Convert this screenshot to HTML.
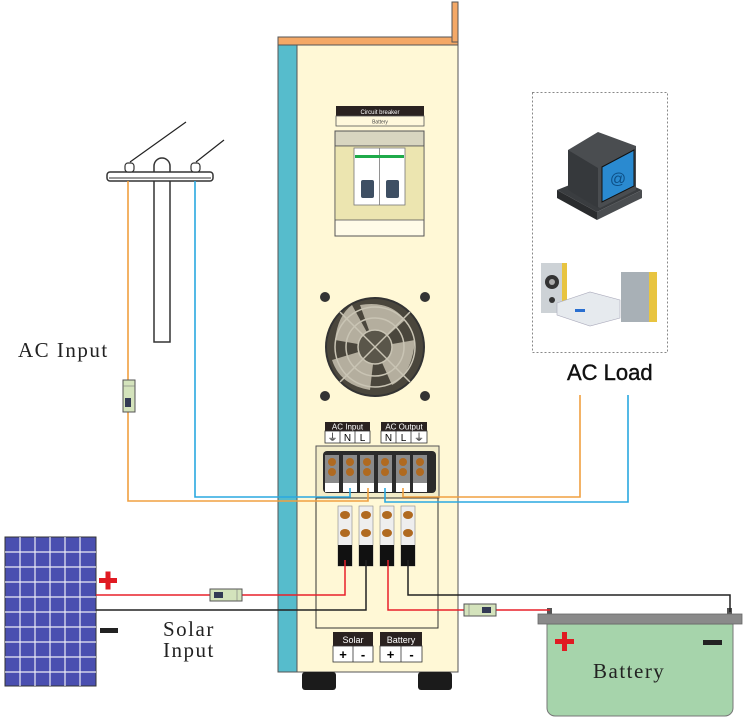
<!DOCTYPE html>
<html><head><meta charset="utf-8"><style>
html,body{margin:0;padding:0;background:#fff;}
svg{display:block;}
</style></head><body>
<svg width="747" height="723" viewBox="0 0 747 723" xmlns="http://www.w3.org/2000/svg">
<!-- Pole -->
<line x1="130" y1="162" x2="186" y2="122" stroke="#222" stroke-width="1.2"/>
<line x1="196" y1="162" x2="224" y2="140" stroke="#222" stroke-width="1.2"/>
<path d="M154 342 V166 a8 8 0 0 1 16 0 V342 Z" fill="#fff" stroke="#333" stroke-width="1.5"/>
<rect x="107" y="172" width="106" height="9" rx="3" fill="#fff" stroke="#333" stroke-width="1.5"/>
<line x1="109" y1="178" x2="211" y2="178" stroke="#999" stroke-width="2"/>
<rect x="125" y="163" width="9" height="9" rx="3" fill="#fff" stroke="#333" stroke-width="1.2"/>
<rect x="191" y="163" width="9" height="9" rx="3" fill="#fff" stroke="#333" stroke-width="1.2"/>
<text x="18" y="357" font-family="Liberation Serif, serif" font-size="21" letter-spacing="1.5" fill="#222">AC Input</text>

<!-- Cabinet -->
<rect x="278" y="37" width="180" height="8" fill="#f4a866" stroke="#555" stroke-width="1"/>
<rect x="452" y="2" width="6" height="40" fill="#f4a866" stroke="#555" stroke-width="1"/>
<rect x="297" y="45" width="161" height="627" fill="#fff8d6" stroke="#555" stroke-width="1"/>
<rect x="278" y="45" width="19" height="627" fill="#56bccc" stroke="#555" stroke-width="1"/>
<rect x="302" y="672" width="34" height="18" rx="3" fill="#1b1b1b"/>
<rect x="418" y="672" width="34" height="18" rx="3" fill="#1b1b1b"/>

<!-- Breaker -->
<rect x="336" y="106" width="88" height="10" fill="#2a2220"/>
<rect x="336" y="116" width="88" height="10" fill="#fff8dc" stroke="#555" stroke-width="0.8"/>
<text x="380" y="114" font-family="Liberation Sans, sans-serif" font-size="6" fill="#fff" text-anchor="middle">Circuit breaker</text>
<text x="380" y="123.5" font-family="Liberation Sans, sans-serif" font-size="5" fill="#444" text-anchor="middle">Battery</text>
<rect x="335" y="131" width="89" height="105" fill="#fffbe8" stroke="#555" stroke-width="1"/>
<rect x="335" y="131" width="89" height="15" fill="#d8d5c0" stroke="#555" stroke-width="1"/>
<rect x="335" y="146" width="89" height="74" fill="#ece5b0" stroke="#555" stroke-width="0.8"/>
<rect x="354" y="148" width="51" height="57" fill="#fff" stroke="#777" stroke-width="0.8"/>
<line x1="379.5" y1="148" x2="379.5" y2="205" stroke="#777" stroke-width="0.8"/>
<rect x="355" y="155" width="49" height="3" fill="#1faa4a"/>
<rect x="361" y="180" width="13" height="18" rx="2" fill="#3e4f63"/>
<rect x="386" y="180" width="13" height="18" rx="2" fill="#3e4f63"/>

<!-- Fan -->
<g>
<circle cx="325" cy="297" r="5" fill="#333"/><circle cx="425" cy="297" r="5" fill="#333"/>
<circle cx="325" cy="396" r="5" fill="#333"/><circle cx="425" cy="396" r="5" fill="#333"/>
<circle cx="375" cy="347" r="49" fill="#4a463c" stroke="#333" stroke-width="2"/>
<path d="M375 347 L360 305 Q390 300 405 320 Z M375 347 L415 340 Q412 375 392 385 Z M375 347 L370 390 Q340 385 332 360 Z M375 347 L335 340 Q338 315 352 305 Z" fill="#d8d2bf" opacity="0.75"/>
<circle cx="375" cy="347" r="40" fill="none" stroke="#c9c4b4" stroke-width="1.5"/>
<circle cx="375" cy="347" r="29" fill="none" stroke="#c9c4b4" stroke-width="1.5"/>
<circle cx="375" cy="347" r="17" fill="#5a564a" stroke="#c9c4b4" stroke-width="1.5"/>
<line x1="340" y1="312" x2="410" y2="382" stroke="#c9c4b4" stroke-width="1.5"/>
<line x1="410" y1="312" x2="340" y2="382" stroke="#c9c4b4" stroke-width="1.5"/>
</g>

<!-- Terminal labels -->
<g font-family="Liberation Sans, sans-serif" font-size="8">
<rect x="325" y="422" width="45" height="9" fill="#2a2220"/>
<text x="347.5" y="429.5" fill="#fff" text-anchor="middle">AC Input</text>
<rect x="325" y="431" width="45" height="12" fill="#fff" stroke="#333" stroke-width="0.8"/>
<line x1="340" y1="431" x2="340" y2="443" stroke="#333" stroke-width="0.8"/><line x1="355" y1="431" x2="355" y2="443" stroke="#333" stroke-width="0.8"/>
<text x="332.5" y="441" text-anchor="middle" font-size="10">⏚</text><text x="347.5" y="441" text-anchor="middle" font-size="10">N</text><text x="362.5" y="441" text-anchor="middle" font-size="10">L</text>
<rect x="381" y="422" width="46" height="9" fill="#2a2220"/>
<text x="404" y="429.5" fill="#fff" text-anchor="middle">AC Output</text>
<rect x="381" y="431" width="46" height="12" fill="#fff" stroke="#333" stroke-width="0.8"/>
<line x1="396" y1="431" x2="396" y2="443" stroke="#333" stroke-width="0.8"/><line x1="411" y1="431" x2="411" y2="443" stroke="#333" stroke-width="0.8"/>
<text x="388.5" y="441" text-anchor="middle" font-size="10">N</text><text x="403.5" y="441" text-anchor="middle" font-size="10">L</text><text x="419" y="441" text-anchor="middle" font-size="10">⏚</text>
</g>

<!-- Top terminal block -->
<rect x="316" y="446" width="123" height="52" fill="#f2ecc8" stroke="#555" stroke-width="1"/>
<rect x="323" y="451" width="113" height="42" rx="4" fill="#2b2b2b"/>
<g>
<rect x="325" y="455" width="14" height="37" fill="#8a8a8a"/><rect x="343" y="455" width="14" height="37" fill="#8a8a8a"/>
<rect x="360" y="455" width="14" height="37" fill="#8a8a8a"/><rect x="378" y="455" width="14" height="37" fill="#8a8a8a"/>
<rect x="396" y="455" width="14" height="37" fill="#8a8a8a"/><rect x="413" y="455" width="14" height="37" fill="#8a8a8a"/>
<g fill="#fff"><rect x="325" y="483" width="14" height="9"/><rect x="343" y="483" width="14" height="9"/><rect x="360" y="483" width="14" height="9"/><rect x="378" y="483" width="14" height="9"/><rect x="396" y="483" width="14" height="9"/><rect x="413" y="483" width="14" height="9"/></g>
<g fill="#b06a20"><circle cx="332" cy="462" r="4"/><circle cx="332" cy="472" r="4"/><circle cx="350" cy="462" r="4"/><circle cx="350" cy="472" r="4"/><circle cx="367" cy="462" r="4"/><circle cx="367" cy="472" r="4"/><circle cx="385" cy="462" r="4"/><circle cx="385" cy="472" r="4"/><circle cx="403" cy="462" r="4"/><circle cx="403" cy="472" r="4"/><circle cx="420" cy="462" r="4"/><circle cx="420" cy="472" r="4"/></g>
</g>

<!-- Lower terminals -->
<rect x="316" y="498" width="122" height="130" fill="none" stroke="#333" stroke-width="1"/>
<g>
<rect x="338" y="506" width="14" height="60" fill="#eee" stroke="#888" stroke-width="0.6"/>
<rect x="359" y="506" width="14" height="60" fill="#eee" stroke="#888" stroke-width="0.6"/>
<rect x="380" y="506" width="14" height="60" fill="#eee" stroke="#888" stroke-width="0.6"/>
<rect x="401" y="506" width="14" height="60" fill="#eee" stroke="#888" stroke-width="0.6"/>
<g fill="#111"><rect x="338" y="545" width="14" height="21"/><rect x="359" y="545" width="14" height="21"/><rect x="380" y="545" width="14" height="21"/><rect x="401" y="545" width="14" height="21"/></g>
<g fill="#b06a20"><ellipse cx="345" cy="515" rx="5" ry="4"/><ellipse cx="345" cy="533" rx="5" ry="4"/><ellipse cx="366" cy="515" rx="5" ry="4"/><ellipse cx="366" cy="533" rx="5" ry="4"/><ellipse cx="387" cy="515" rx="5" ry="4"/><ellipse cx="387" cy="533" rx="5" ry="4"/><ellipse cx="408" cy="515" rx="5" ry="4"/><ellipse cx="408" cy="533" rx="5" ry="4"/></g>
</g>
<!-- Solar/Battery labels -->
<g font-family="Liberation Sans, sans-serif">
<rect x="333" y="632" width="40" height="14" fill="#2a2220"/>
<text x="353" y="643" fill="#fff" font-size="9" text-anchor="middle">Solar</text>
<rect x="333" y="646" width="40" height="16" fill="#fff" stroke="#333" stroke-width="0.8"/>
<line x1="353" y1="646" x2="353" y2="662" stroke="#333" stroke-width="0.8"/>
<text x="343" y="659" font-size="13" font-weight="bold" text-anchor="middle">+</text><text x="363" y="659" font-size="13" font-weight="bold" text-anchor="middle">-</text>
<rect x="380" y="632" width="42" height="14" fill="#2a2220"/>
<text x="401" y="643" fill="#fff" font-size="9" text-anchor="middle">Battery</text>
<rect x="380" y="646" width="42" height="16" fill="#fff" stroke="#333" stroke-width="0.8"/>
<line x1="401" y1="646" x2="401" y2="662" stroke="#333" stroke-width="0.8"/>
<text x="390.5" y="659" font-size="13" font-weight="bold" text-anchor="middle">+</text><text x="411.5" y="659" font-size="13" font-weight="bold" text-anchor="middle">-</text>
</g>

<!-- Solar panel -->
<rect x="5" y="537" width="91" height="149" fill="#4a4fb0" stroke="#333" stroke-width="1"/>
<g stroke="#fff" stroke-width="1.2" opacity="0.9">
<line x1="20" y1="537" x2="20" y2="686"/><line x1="35" y1="537" x2="35" y2="686"/><line x1="50" y1="537" x2="50" y2="686"/><line x1="65" y1="537" x2="65" y2="686"/><line x1="80" y1="537" x2="80" y2="686"/>
<line x1="5" y1="552" x2="96" y2="552"/><line x1="5" y1="567" x2="96" y2="567"/><line x1="5" y1="582" x2="96" y2="582"/><line x1="5" y1="597" x2="96" y2="597"/><line x1="5" y1="612" x2="96" y2="612"/><line x1="5" y1="627" x2="96" y2="627"/><line x1="5" y1="642" x2="96" y2="642"/><line x1="5" y1="657" x2="96" y2="657"/><line x1="5" y1="672" x2="96" y2="672"/>
</g>
<rect x="99" y="578" width="18" height="5" fill="#e01a22"/><rect x="105.5" y="571.5" width="5" height="18" fill="#e01a22"/>
<rect x="100" y="628" width="18" height="5" fill="#222"/>
<text x="163" y="636" font-family="Liberation Serif, serif" font-size="21" letter-spacing="1.5" fill="#222">Solar</text>
<text x="163" y="657" font-family="Liberation Serif, serif" font-size="21" letter-spacing="1.5" fill="#222">Input</text>

<!-- Battery -->
<rect x="547" y="608" width="5" height="8" fill="#555"/>
<rect x="727" y="608" width="5" height="8" fill="#555"/>
<path d="M547 624 H733 V708 a8 8 0 0 1 -8 8 H555 a8 8 0 0 1 -8 -8 Z" fill="#a6d4ab" stroke="#777" stroke-width="1"/>
<rect x="538" y="614" width="204" height="10" fill="#8a8a8a" stroke="#666" stroke-width="0.8"/>
<rect x="555" y="639" width="19" height="5" fill="#e01a22"/><rect x="562" y="632" width="5" height="19" fill="#e01a22"/>
<rect x="703" y="640" width="19" height="5" fill="#222"/>
<text x="593" y="678" font-family="Liberation Serif, serif" font-size="21" letter-spacing="1.5" fill="#222">Battery</text>

<!-- AC Load -->
<rect x="532.5" y="92.5" width="135" height="260" fill="none" stroke="#888" stroke-width="1" stroke-dasharray="2,2"/>
<text x="567" y="380" font-family="Liberation Sans, sans-serif" font-size="22" fill="#111" stroke="#111" stroke-width="0.4">AC Load</text>
<g>
<path d="M557 190 L597 212 L642 190 L602 172 Z" fill="#3a3d40"/>
<path d="M557 190 V198 L597 220 V212 Z" fill="#2a2c2e"/>
<path d="M597 212 V220 L642 198 V190 Z" fill="#4a4d50"/>
<path d="M568 150 L598 132 L636 146 L636 190 L600 208 L568 190 Z" fill="#4a4d50"/>
<path d="M568 150 L598 168 V208 L568 190 Z" fill="#36393c"/>
<path d="M602 167 L634 150 V186 L602 202 Z" fill="#2a8ad0" stroke="#111" stroke-width="1"/>
<text x="618" y="184" font-family="Liberation Sans, sans-serif" font-size="16" fill="#0d4f86" text-anchor="middle">@</text>
</g>
<g>
<rect x="541" y="263" width="25" height="50" fill="#cdd2d6"/><rect x="562" y="263" width="5" height="50" fill="#e8c440"/>
<circle cx="552" cy="282" r="7" fill="#333"/><circle cx="552" cy="282" r="3" fill="#aaa"/>
<circle cx="552" cy="300" r="3" fill="#333"/>
<path d="M557 303 L590 292 L620 300 L620 318 L590 326 L557 315 Z" fill="#e6eaee" stroke="#aab" stroke-width="0.6"/>
<rect x="575" y="309" width="10" height="3" fill="#2a6fd0"/>
<rect x="621" y="272" width="28" height="50" fill="#a8b0b6"/><rect x="649" y="272" width="8" height="50" fill="#e8c440"/>
</g>

<!-- Wires (on top) -->
<polyline points="128,181 128,501 368,501 368,488" fill="none" stroke="#f0a040" stroke-width="1.6"/>
<polyline points="195,181 195,497 350,497 350,488" fill="none" stroke="#2aa8e0" stroke-width="1.6"/>
<polyline points="403,488 403,497 580,497 580,395" fill="none" stroke="#f0a040" stroke-width="1.6"/>
<polyline points="385,488 385,502 628,502 628,395" fill="none" stroke="#2aa8e0" stroke-width="1.6"/>
<polyline points="96,595 345,595 345,560" fill="none" stroke="#e8202a" stroke-width="1.5"/>
<polyline points="96,610 366,610 366,560" fill="none" stroke="#222" stroke-width="1.5"/>
<polyline points="388,560 388,610 550,610" fill="none" stroke="#e8202a" stroke-width="1.5"/>
<polyline points="408,560 408,595 730,595 730,612" fill="none" stroke="#222" stroke-width="1.5"/>

<!-- Fuses -->
<rect x="123" y="380" width="12" height="32" fill="#d4e3bc" stroke="#555" stroke-width="1"/>
<line x1="123" y1="386" x2="135" y2="386" stroke="#777" stroke-width="0.6"/>
<rect x="125" y="398" width="6" height="9" fill="#333a55"/>
<rect x="210" y="589" width="32" height="12" fill="#d4e3bc" stroke="#555" stroke-width="1"/>
<rect x="214" y="592" width="9" height="6" fill="#333a55"/>
<line x1="237" y1="589" x2="237" y2="601" stroke="#777" stroke-width="0.6"/>
<rect x="464" y="604" width="32" height="12" fill="#d4e3bc" stroke="#555" stroke-width="1"/>
<rect x="482" y="607" width="9" height="6" fill="#333a55"/>
<line x1="469" y1="604" x2="469" y2="616" stroke="#777" stroke-width="0.6"/>
</svg>
</body></html>
